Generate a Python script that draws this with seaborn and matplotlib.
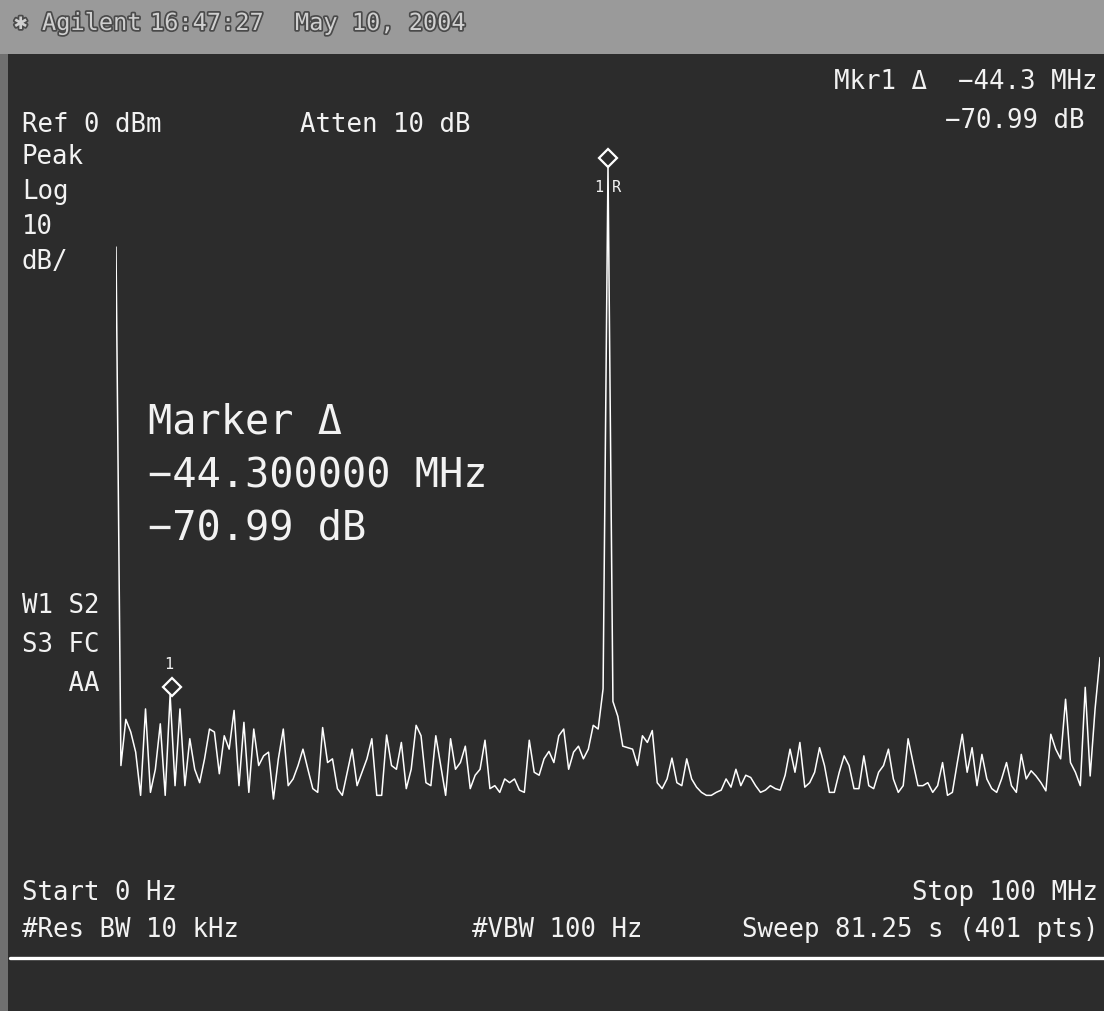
import numpy as np
import pandas as pd
import matplotlib
matplotlib.use("Agg")
import matplotlib.pyplot as plt
import seaborn as sns
from matplotlib import patheffects
from matplotlib.patches import Rectangle
from matplotlib.lines import Line2D
from matplotlib.transforms import offset_copy

# ---- sweep settings -------------------------------------------------------
start_mhz = 0.0
stop_mhz = 100.0
ref_level_dbm = 0.0
db_per_div = 10
n_div = 10

# ---- trace (dBm), 0.5 MHz steps from start to stop ------------------------
level_dbm = [
    -14.5, -84.1, -77.9, -79.6, -82.3, -88.1, -76.5, -87.7, -84.6, -78.5,
    -88.1, -74.6, -86.8, -76.5, -86.8, -80.5, -84.6, -86.4, -83.2, -79.2,
    -79.6, -85.2, -80.1, -81.9, -76.7, -86.8, -78.3, -87.7, -79.2, -84.1,
    -82.8, -82.3, -88.6, -83.2, -79.2, -86.8, -85.9, -84.1, -81.9, -84.6,
    -87.2, -87.7, -79.0, -83.7, -83.2, -87.2, -88.1, -85.0, -81.9, -86.8,
    -85.0, -83.2, -80.5, -88.1, -88.1, -80.0, -84.1, -84.6, -81.0, -87.2,
    -84.6, -78.7, -80.1, -86.4, -86.8, -80.1, -84.1, -88.1, -80.5, -84.6,
    -83.7, -81.5, -87.2, -85.4, -84.6, -80.7, -87.2, -86.8, -87.7, -85.9,
    -86.4, -85.9, -87.4, -87.7, -80.7, -85.0, -85.4, -83.2, -82.2, -83.7,
    -80.1, -79.2, -84.6, -82.3, -81.5, -83.2, -81.9, -78.7, -79.2, -73.8,
    -3.6, -75.5, -77.5, -81.5, -81.7, -81.9, -84.1, -80.1, -81.0, -79.4,
    -86.4, -87.2, -85.9, -83.1, -86.4, -86.8, -83.2, -85.9, -87.0, -87.7,
    -88.1, -88.1, -87.7, -87.4, -85.9, -87.0, -84.6, -86.8, -85.4, -85.7,
    -86.8, -87.7, -87.4, -86.8, -87.2, -87.4, -85.4, -81.9, -85.0, -81.0,
    -87.0, -86.4, -85.0, -81.7, -84.1, -87.7, -87.7, -85.0, -82.8, -84.1,
    -87.2, -87.2, -82.8, -86.8, -87.2, -85.0, -84.1, -81.9, -85.9, -87.7,
    -86.8, -80.5, -83.7, -86.8, -86.8, -86.4, -87.7, -86.8, -83.7, -88.1,
    -87.7, -83.7, -79.9, -85.0, -81.7, -86.8, -82.6, -85.9, -87.2, -87.7,
    -85.9, -83.7, -86.8, -87.7, -82.6, -85.9, -84.8, -85.5, -86.4, -87.5,
    -79.9, -81.9, -83.2, -75.2, -83.7, -85.0, -86.8, -73.6, -85.5, -76.5,
    -69.6,
]
freq_mhz = np.linspace(start_mhz, stop_mhz, len(level_dbm))

# ---- delta marker readout --------------------------------------------------
delta_mhz = -44.3
delta_db = -70.99

trace = pd.DataFrame({"freq_mhz": freq_mhz, "level_dbm": level_dbm})

# ---- screen colours / layout ----------------------------------------------
W, H = 1104, 1012
SCREEN = "#2c2c2c"
INK = "#f2f2f2"

sns.set_style("dark", rc={"axes.facecolor": SCREEN, "figure.facecolor": SCREEN})
plt.rcParams["font.family"] = ["DejaVu Sans Mono", "DejaVu Sans"]

fig = plt.figure(figsize=(W / 100, H / 100), dpi=100, facecolor=SCREEN)


def fx(x):
    return x / W


def fy(y):
    return 1 - y / H


def say(x, y, s, size=18.5, ha="left", **kw):
    fig.text(fx(x), fy(y), s, ha=ha, va="center", fontsize=size,
             color=kw.pop("color", INK), **kw)


# title bar and left bezel
fig.add_artist(Rectangle((0, fy(55)), 1, 55 / H, transform=fig.transFigure,
                         facecolor="#9a9a9a", edgecolor="none"))
fig.add_artist(Rectangle((0, 0), fx(8), fy(55), transform=fig.transFigure,
                         facecolor="#707070", edgecolor="none"))
bar_fx = [patheffects.withStroke(linewidth=2.5, foreground="#4a4a4a")]
say(14, 24, "\u2731", size=16, color="#d0d0d0", path_effects=bar_fx)
say(42, 24, "Agilent", size=17, color="#d0d0d0", path_effects=bar_fx)
say(150, 24, "16:47:27", size=17, color="#d0d0d0", path_effects=bar_fx)
say(295, 24, "May 10, 2004", size=17, color="#d0d0d0", path_effects=bar_fx)

# trace area
ax = fig.add_axes([fx(116), fy(885), 984 / W, 745 / H])
sns.lineplot(data=trace, x="freq_mhz", y="level_dbm", ax=ax, color="white",
             lw=1.1, estimator=None, sort=False)
ax.set_xlim(start_mhz, stop_mhz)
ax.set_ylim(ref_level_dbm - db_per_div * n_div, ref_level_dbm)
ax.set_axis_off()

# reference marker on the peak, delta marker relative to it
i_pk = int(np.argmax(level_dbm))
ref_f, ref_l = freq_mhz[i_pk], level_dbm[i_pk]
mk_f, mk_l = ref_f + delta_mhz, ref_l + delta_db

lift = offset_copy(ax.transData, fig=fig, x=0, y=8, units="dots")
for f, l in [(ref_f, ref_l), (mk_f, mk_l)]:
    ax.plot([f], [l], marker="D", ms=9, mfc="none", mec="white", mew=1.6,
            transform=lift, clip_on=False)
ax.annotate("1", (ref_f, ref_l), xytext=(-5, -21), textcoords="offset pixels",
            ha="right", va="center", fontsize=11, color=INK)
ax.annotate("R", (ref_f, ref_l), xytext=(4, -21), textcoords="offset pixels",
            ha="left", va="center", fontsize=11, color=INK)
ax.annotate("1", (mk_f, mk_l), xytext=(-3, 31), textcoords="offset pixels",
            ha="center", va="center", fontsize=11, color=INK)

# annotations around the screen
say(834, 82, f"Mkr1 \u0394  \u2212{abs(delta_mhz):.1f} MHz")
say(945, 121, f"\u2212{abs(delta_db):.2f} dB")
say(22, 125, f"Ref {ref_level_dbm:.0f} dBm")
say(300, 125, "Atten 10 dB")
say(22, 157, "Peak")
say(22, 192, "Log")
say(22, 227, f"{db_per_div}")
say(22, 262, "dB/")
say(22, 606, "W1 S2")
say(22, 645, "S3 FC")
say(22, 684, "   AA")

say(148, 423, "Marker \u0394", size=29)
say(148, 477, f"\u2212{abs(delta_mhz):.6f} MHz", size=29)
say(148, 528, f"\u2212{abs(delta_db):.2f} dB", size=29)

say(22, 893, f"Start {start_mhz:.0f} Hz")
say(1098, 893, f"Stop {stop_mhz:.0f} MHz", ha="right")
say(22, 930, "#Res BW 10 kHz")
say(472, 930, "#VBW 100 Hz")
say(1098, 930, f"Sweep 81.25 s ({len(level_dbm) * 2 - 1} pts)", ha="right")

fig.add_artist(Line2D([fx(10), 1], [fy(959), fy(959)], color="white", lw=2.4,
                      transform=fig.transFigure))

fig.savefig("out.png", dpi=100, facecolor=SCREEN)
